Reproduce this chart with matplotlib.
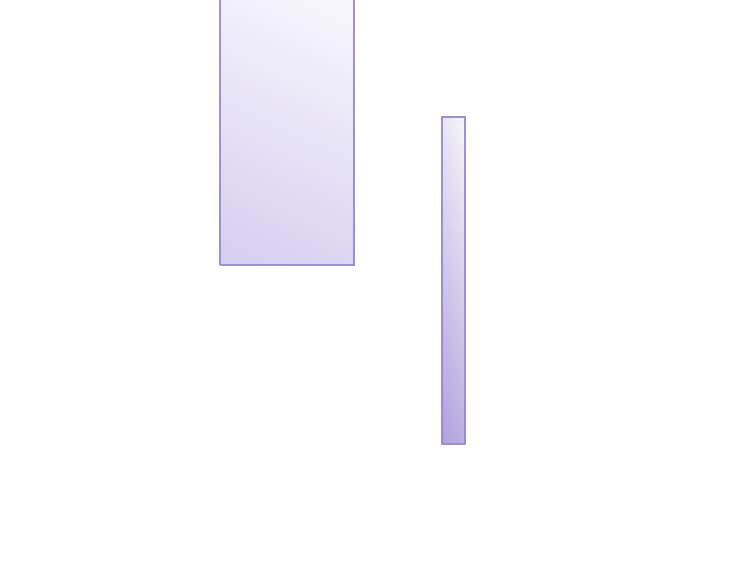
import numpy as np
import matplotlib
matplotlib.use('Agg')
import matplotlib.pyplot as plt
from matplotlib.patches import Rectangle
from matplotlib.colors import LinearSegmentedColormap

# floating bars: centre, width, low, high (axis units 0-100)
bar_centers = [38.27, 60.47]
bar_widths = [17.87, 3.0]
bar_lows = [54.8, 24.2]
bar_highs = [101.0, 80.0]
top_colors = ['#f7f6fd', '#f3f1f9']
bottom_colors = ['#d6cef0', '#b0a1dd']

fig = plt.figure(figsize=(7.5, 5.86), dpi=100)
ax = fig.add_axes([0, 0, 1, 1])
ax.set_xlim(0, 100)
ax.set_ylim(0, 100)
ax.axis('off')

for c, w, lo, hi, ct, cb in zip(bar_centers, bar_widths, bar_lows, bar_highs,
                                 top_colors, bottom_colors):
    x0 = c - w / 2
    cmap = LinearSegmentedColormap.from_list('g', [cb, ct])
    # vertical gradient with a slight diagonal tilt
    yy, xx = np.mgrid[0:1:200j, 0:1:60j]
    grad = np.clip(0.85 * yy + 0.2 * xx, 0, 1)
    im = ax.imshow(grad, cmap=cmap, origin='lower', aspect='auto',
                   extent=(x0, x0 + w, lo, hi), vmin=0, vmax=1, zorder=1)
    rect = Rectangle((x0, lo), w, hi - lo, facecolor='none',
                     edgecolor='#9586d4', linewidth=1.3, zorder=2)
    ax.add_patch(rect)
    im.set_clip_path(rect)

ax.set_xlim(0, 100)
ax.set_ylim(0, 100)
fig.savefig('out.png', dpi=100)
